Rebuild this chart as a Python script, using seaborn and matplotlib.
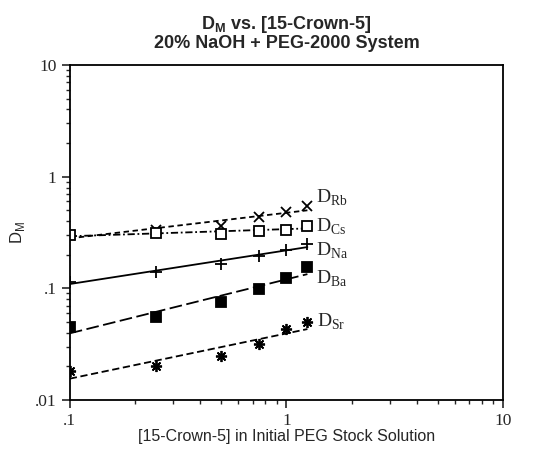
import numpy as np
import pandas as pd
import matplotlib
matplotlib.use('Agg')
import matplotlib.pyplot as plt
import seaborn as sns

# values
conc = [0.1, 0.25, 0.5, 0.75, 1.0, 1.25]
d_rb = [0.30, 0.333, 0.364, 0.432, 0.48, 0.55]
d_cs = [0.30, 0.31, 0.307, 0.329, 0.335, 0.364]
d_na = [0.115, 0.139, 0.166, 0.196, 0.221, 0.25]
d_ba = [0.045, 0.055, 0.075, 0.099, 0.125, 0.154]
d_sr = [0.018, 0.020, 0.025, 0.032, 0.043, 0.050]
metals = ['Rb', 'Cs', 'Na', 'Ba', 'Sr']

df = pd.DataFrame({'conc': conc * 5,
                   'D': d_rb + d_cs + d_na + d_ba + d_sr,
                   'metal': [m for m in metals for _ in conc]})

sns.set_style('ticks')
plt.rcParams['font.family'] = ['Liberation Sans', 'DejaVu Sans']
plt.rcParams['mathtext.fontset'] = 'custom'
plt.rcParams['mathtext.rm'] = 'Liberation Serif'
plt.rcParams['mathtext.sf'] = 'Liberation Sans'
plt.rcParams['mathtext.bf'] = 'Liberation Sans:bold'

fig = plt.figure(figsize=(5.54, 4.55), dpi=100)
ax = fig.add_axes([0.126, 0.121, 0.782, 0.736])

# marker, fill, line dashes, label offset (points)
styles = {
    'Rb': dict(marker='x', size=7, fill=True, dashes=(3, 2), off=(6.5, 2)),
    'Cs': dict(marker='s', size=7, fill=False, dashes=(4, 1.5, 1, 1.5), off=(6.5, -4.5)),
    'Na': dict(marker='+', size=9, fill=True, dashes=None, off=(6, -8.5)),
    'Ba': dict(marker='s', size=7, fill=True, dashes=(7, 2.5), off=(6.5, -12)),
    'Sr': dict(marker=(8, 2, 0), size=8, fill=True, dashes=(4, 2), off=(7, -3.5)),
}

for m in metals:
    sub = df[df['metal'] == m]
    st = styles[m]
    # least-squares fit on log-log scale, as in the original figure
    k, b = np.polyfit(np.log10(sub['conc']), np.log10(sub['D']), 1)
    xs = np.array([conc[0], conc[-1]])
    fit = pd.DataFrame({'conc': xs, 'D': 10 ** (b + k * np.log10(xs))})
    line = sns.lineplot(data=fit, x='conc', y='D', ax=ax, color='black', lw=1.3)
    if st['dashes'] is not None:
        line.lines[-1].set_dashes(st['dashes'])
    ax.plot(sub['conc'], sub['D'], linestyle='none', marker=st['marker'],
            markersize=st['size'], color='black',
            markerfacecolor='black' if st['fill'] else 'white',
            markeredgewidth=1.3)
    ax.annotate(r'$\mathrm{D}_{\mathrm{%s}}$' % m,
                xy=(sub['conc'].iloc[-1], sub['D'].iloc[-1]),
                xytext=st['off'], textcoords='offset points',
                ha='left', va='baseline', fontsize=14)

ax.set_xscale('log')
ax.set_yscale('log')
ax.set_xlim(0.1, 10)
ax.set_ylim(0.01, 10)
ax.set_xticks([0.1, 1, 10])
ax.set_xticklabels(['.1', '1', '10'], family='Liberation Serif', fontsize=12.5)
ax.set_yticks([0.01, 0.1, 1, 10])
ax.set_yticklabels(['.01', '.1', '1', '10'], family='Liberation Serif', fontsize=12.5)
ax.tick_params(which='major', length=6, width=1.2, direction='out')
ax.tick_params(which='minor', length=3, width=1, direction='out')
for s in ax.spines.values():
    s.set_linewidth(1.3)
    s.set_color('black')

ax.set_xlabel('[15-Crown-5] in Initial PEG Stock Solution', fontsize=11.5, labelpad=0)
ax.set_ylabel(r'D$_\mathsf{M}$', fontsize=12, labelpad=6)
ax.set_title('D$_\\mathbf{M}$ vs. [15-Crown-5]\n20% NaOH + PEG-2000 System',
             fontsize=13, fontweight='bold', pad=12, linespacing=1.05)

fig.savefig('out.png', dpi=100)
